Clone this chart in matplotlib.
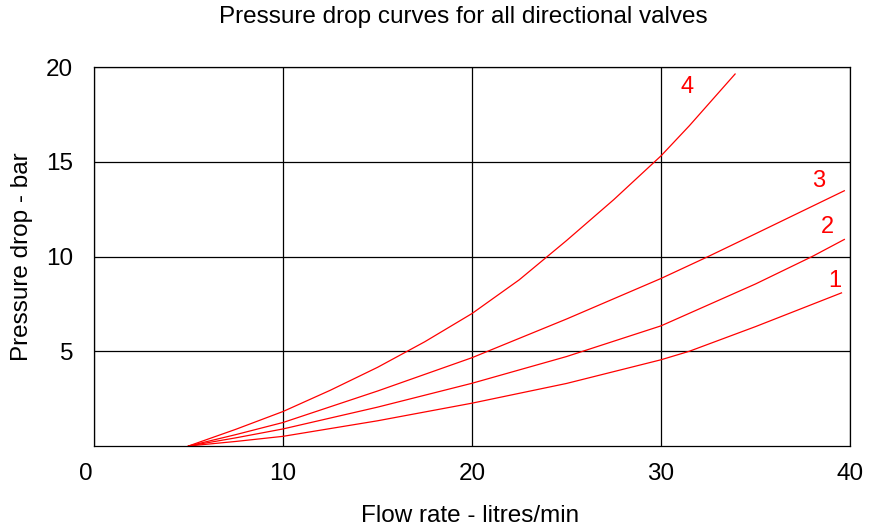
import matplotlib
matplotlib.use('Agg')
import matplotlib.pyplot as plt
import matplotlib.transforms as mtransforms

plt.rcParams['font.family'] = ['Liberation Sans', 'DejaVu Sans']

# flow rate (litres/min) and pressure drop (bar)
flow_1 = [5, 7.5, 10, 15, 20, 25, 30, 31.5, 35, 39.55]
drop_1 = [0, 0.24, 0.51, 1.33, 2.26, 3.3, 4.55, 5.0, 6.3, 8.08]
flow_2 = [5, 7.5, 10, 15, 20, 25, 30, 35, 38, 39.7]
drop_2 = [0, 0.43, 0.9, 2.05, 3.31, 4.72, 6.34, 8.55, 10.0, 10.9]
flow_3 = [5, 7.5, 10, 15, 20, 25, 30, 32.5, 35, 39.7]
drop_3 = [0, 0.6, 1.24, 2.9, 4.66, 6.7, 8.84, 10.0, 11.2, 13.47]
flow_4 = [5, 7.5, 10, 12.5, 15, 17.5, 20, 22.5, 25, 27.5, 30, 31.5, 33.92]
drop_4 = [0, 0.88, 1.82, 2.94, 4.15, 5.5, 6.99, 8.77, 10.84, 13.0, 15.31, 16.9, 19.63]

curve_labels = ['1', '2', '3', '4']
label_x = [39.2, 38.8, 38.35, 31.4]
label_y = [8.7, 11.55, 14.0, 18.95]

x_ticks = [0, 10, 20, 30, 40]
y_ticks = [5, 10, 15, 20]

fig = plt.figure(figsize=(8.79, 5.30), dpi=100)
ax = fig.add_axes([94 / 879, 84 / 530, 756 / 879, 379 / 530])

for fx, dy in [(flow_1, drop_1), (flow_2, drop_2), (flow_3, drop_3), (flow_4, drop_4)]:
    ax.plot(fx, dy, color='#ff0000', linewidth=0.9)

for lab, lx, ly in zip(curve_labels, label_x, label_y):
    ax.text(lx, ly, lab, color='#ff0000', fontsize=17, ha='center', va='center')

ax.set_xlim(0, 40)
ax.set_ylim(0, 20)
ax.set_xticks(x_ticks)
ax.set_yticks(y_ticks)
ax.tick_params(length=0, labelsize=17.5)
ax.tick_params(axis='y', pad=15)
ax.tick_params(axis='x', pad=12)
ax.grid(True, color='black', linewidth=0.9)
for sp in ax.spines.values():
    sp.set_color('black')
    sp.set_linewidth(0.9)

# the "0" label sits a bit left of the axis origin in the original
lbl0 = ax.get_xticklabels()[0]
lbl0.set_transform(lbl0.get_transform() + mtransforms.ScaledTranslation(-8 / 100, 0, fig.dpi_scale_trans))

fig.text(463 / 879, 1 - 17 / 530, 'Pressure drop curves for all directional valves',
         fontsize=17.5, ha='center', va='center')
fig.text(470 / 879, 1 - 516 / 530, 'Flow rate - litres/min', fontsize=17.5, ha='center', va='center')
fig.text(22 / 879, 1 - 257 / 530, 'Pressure drop - bar', fontsize=17.5, ha='center', va='center',
         rotation=90)

fig.savefig('out.png', dpi=100)
